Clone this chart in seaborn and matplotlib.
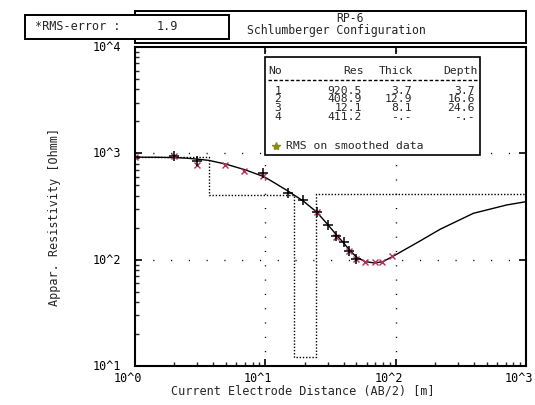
import matplotlib
matplotlib.use("Agg")
import matplotlib.pyplot as plt
import seaborn as sns
import pandas as pd
from matplotlib.patches import Rectangle
from matplotlib.transforms import ScaledTranslation
from matplotlib.ticker import LogLocator, NullFormatter

# ── Layer model (inversion result) ────────────────────────────────────────────
layer_no = [1, 2, 3, 4]
layer_res = [920.5, 408.9, 12.1, 411.2]
layer_thick = [3.7, 12.9, 8.1]
layer_depth = [3.7, 16.6, 24.6]
rms_error = 1.9

# ── Calculated sounding curve ────────────────────────────────────────────────
curve_ab2 = [1.0, 1.5, 2.0, 2.5, 3.0, 3.7, 5.0, 7.0, 9.8, 12.0, 15.0, 19.6,
             24.8, 30.0, 35.0, 40.0, 44.0, 50.0, 58.0, 69.0, 80.0, 96.0,
             154.0, 219.0, 395.0, 712.0, 1000.0]
curve_rho = [920, 918, 912, 900, 882, 858, 790, 700, 602, 520, 440, 355,
             280, 215, 172, 143, 124, 106, 96, 93, 96, 108,
             150, 193, 273, 327, 351]

# ── Field data: smoothed (+) and raw (x) ──────────────────────────────────────
plus_ab2 = [1.0, 2.0, 3.0, 9.6, 15.0, 19.5, 24.8, 30.0, 35.0, 40.0, 44.0, 50.0]
plus_rho = [920, 940, 840, 656, 420, 364, 280, 211, 168, 146, 120, 101]
cross_ab2 = [1.0, 2.0, 3.0, 4.9, 6.9, 9.6, 24.8, 35.0, 44.0, 50.0, 58.0, 69.0, 78.0, 93.0]
cross_rho = [920, 940, 776, 776, 685, 610, 280, 165, 120, 101, 95, 95, 95, 108]

x_ticks = [1, 10, 100, 1000]
x_tick_labels = ["10^0", "10^1", "10^2", "10^3"]
y_ticks = [10, 100, 1000, 10000]
y_tick_labels = ["10^1", "10^2", "10^3", "10^4"]

W, H = 535, 405
MONO = "DejaVu Sans Mono"

sns.set_style("ticks")
plt.rcParams["font.family"] = [MONO, "DejaVu Sans"]

fig = plt.figure(figsize=(W / 100, H / 100), dpi=100)
fig.patch.set_facecolor("white")

# data axes in pixel layout: left 135, right 526, top 47, bottom 366
ax = fig.add_axes([135 / W, 1 - 366 / H, (526 - 135) / W, (366 - 47) / H])
ax.set_xscale("log")
ax.set_yscale("log")
ax.set_xlim(1, 1000)
ax.set_ylim(10, 10000)

# sparse dotted grid on decades
for xv in x_ticks[1:-1]:
    ax.axvline(xv, color="black", lw=1.0, ls=(0, (0.8, 9.5)), zorder=1)
for yv in y_ticks[1:-1]:
    ax.axhline(yv, color="black", lw=1.0, ls=(0, (0.8, 12)), zorder=1)

# layer model as dotted step line
edges = [1.0] + layer_depth + [1000.0]
values = layer_res + [layer_res[-1]]
ax.step(edges, values, where="post", color="black", lw=1.0,
        ls=(0, (1.0, 1.3)), zorder=2)

curve = pd.DataFrame({"ab2": curve_ab2, "rho": curve_rho})
sns.lineplot(data=curve, x="ab2", y="rho", ax=ax, color="black", lw=1.0,
             sort=False, zorder=3)

plus_df = pd.DataFrame({"ab2": plus_ab2, "rho": plus_rho})
cross_df = pd.DataFrame({"ab2": cross_ab2, "rho": cross_rho})
ax.plot(cross_df["ab2"], cross_df["rho"], ls="none", marker="x", ms=5,
        mew=1.0, color="#b8305a", zorder=4)
ax.plot(plus_df["ab2"], plus_df["rho"], ls="none", marker="+", ms=7,
        mew=1.1, color="black", zorder=5)

# ticks / labels
ax.set_xticks(x_ticks, labels=x_tick_labels)
ax.set_yticks(y_ticks, labels=y_tick_labels)
ax.xaxis.set_minor_locator(LogLocator(base=10, subs=range(2, 10), numticks=20))
ax.yaxis.set_minor_locator(LogLocator(base=10, subs=range(2, 10), numticks=20))
ax.xaxis.set_minor_formatter(NullFormatter())
ax.yaxis.set_minor_formatter(NullFormatter())
ax.tick_params(which="major", direction="in", length=5, width=1.2,
               top=True, right=True, labelsize=8.5, pad=4, colors="black")
ax.tick_params(axis="y", which="major", pad=9)
ax.tick_params(which="minor", direction="in", length=3, width=1.0,
               top=False, right=False)
for lab in ax.get_xticklabels():
    lab.set_transform(lab.get_transform() + ScaledTranslation(-0.07, 0, fig.dpi_scale_trans))
for lab in ax.get_yticklabels():
    lab.set_transform(lab.get_transform() + ScaledTranslation(-0.01, 0.01, fig.dpi_scale_trans))

ax.set_xlabel("Current Electrode Distance (AB/2) [m]", fontsize=8.5)
ax.xaxis.set_label_coords((303 - 135) / 391, (366 - 384) / 319)
ax.set_ylabel("Appar. Resistivity [Ohmm]", fontsize=8.5, va="center")
ax.yaxis.set_label_coords((55 - 135) / 391, (366 - 217) / 319)
for s in ax.spines.values():
    s.set_linewidth(1.5)
    s.set_color("black")

# ── Overlay in pixel coordinates for boxes and table ─────────────────────────
ov = fig.add_axes([0, 0, 1, 1], zorder=10)
ov.set_xlim(0, W)
ov.set_ylim(H, 0)
ov.axis("off")

def box(x0, y0, x1, y1, lw=1.4):
    ov.add_patch(Rectangle((x0, y0), x1 - x0, y1 - y0, facecolor="white",
                           edgecolor="black", lw=lw))

# title box and RMS box
box(135, 11, 526, 43)
box(25, 15, 229, 39)
ov.text(350, 18.5, "RP-6", ha="center", va="center", fontsize=8.3)
ov.text(336, 30.5, "Schlumberger Configuration", ha="center", va="center", fontsize=8.3)
ov.text(35, 27, "*RMS-error :", ha="left", va="center", fontsize=8.5)
ov.text(178, 27, f"{rms_error:.1f}", ha="right", va="center", fontsize=8.5)

# model table
box(265, 57, 480, 155, lw=1.2)
ov.text(268, 71, "No", ha="left", va="center", fontsize=8.2)
ov.text(364, 71, "Res", ha="right", va="center", fontsize=8.2)
ov.text(413, 71, "Thick", ha="right", va="center", fontsize=8.2)
ov.text(478, 71, "Depth", ha="right", va="center", fontsize=8.2)
ov.plot([268, 478], [80, 80], color="black", lw=1.0, ls=(0, (2.5, 1.5)))
row_y = [91, 99.5, 108, 116.5]
for i, (no, res) in enumerate(zip(layer_no, layer_res)):
    y = row_y[i]
    ov.text(278, y, str(no), ha="center", va="center", fontsize=8.2)
    ov.text(362, y, f"{res:.1f}", ha="right", va="center", fontsize=8.2)
    thick = f"{layer_thick[i]:.1f}" if i < len(layer_thick) else "-.-"
    depth = f"{layer_depth[i]:.1f}" if i < len(layer_depth) else "-.-"
    ov.text(412, y, thick, ha="right", va="center", fontsize=8.2)
    ov.text(475, y, depth, ha="right", va="center", fontsize=8.2)
ov.plot([276], [146], ls="none", marker="*", ms=6, color="#8a8a10")
ov.text(286, 146, "RMS on smoothed data", ha="left", va="center", fontsize=8.2)

fig.savefig("out.png", dpi=100)
